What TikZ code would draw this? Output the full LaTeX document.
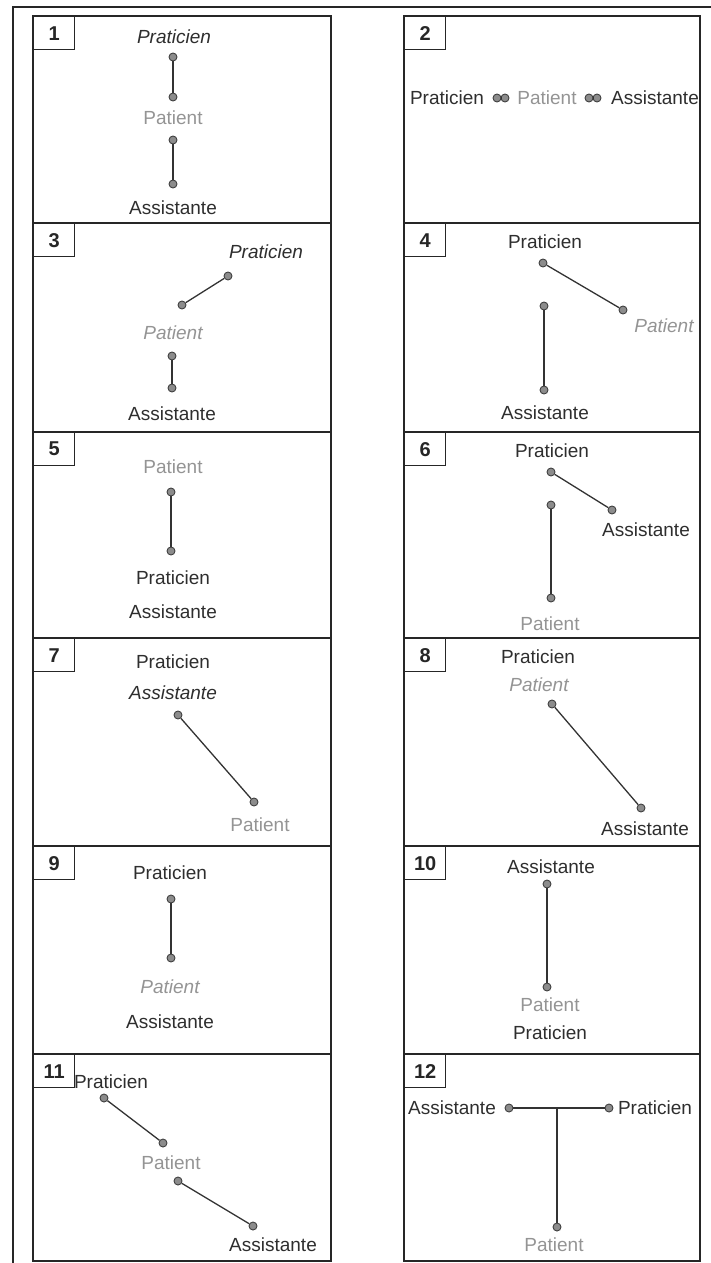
\documentclass[tikz,border=0pt]{standalone}
\usepackage{fontspec}
\setmainfont{Liberation Sans}
\begin{document}
\begin{tikzpicture}[x=1pt,y=-1pt,
  frame/.style={draw=black!85, line width=1.6pt},
  panel/.style={draw=black!85, line width=1.6pt},
  numbox/.style={draw=black!85, line width=1.4pt, minimum width=41pt, minimum height=33pt, inner sep=0pt, anchor=north west, text=black!85, font=\fontsize{20}{22}\selectfont\bfseries},
  lbl/.style={text=black!82, font=\fontsize{19}{22}\selectfont, inner sep=0pt},
  pat/.style={lbl, text=black!42},
  itl/.style={font=\fontsize{19}{22}\selectfont\itshape},
  dot/.style={circle, draw=black!75, fill=black!45, line width=0.9pt, minimum size=8pt, inner sep=0pt},
  link/.style={draw=black!80, line width=1.3pt}]
\useasboundingbox (0,0) rectangle (711,1263);
% outer frame
\draw[frame] (13,1263) -- (13,7) -- (711,7);
% columns and row dividers
\draw[panel] (33,16) rectangle (331,1261);
\draw[panel] (404,16) rectangle (700,1261);
\foreach \yy in {223,432,638,846,1054}{
  \draw[panel] (33,\yy) -- (331,\yy);
  \draw[panel] (404,\yy) -- (700,\yy);
}
% number boxes
\node[numbox] (n1) at (33,16) {1};
\node[numbox] (n2) at (404,16) {2};
\node[numbox] (n3) at (33,223) {3};
\node[numbox] (n4) at (404,223) {4};
\node[numbox] (n5) at (33,432) {5};
\node[numbox] (n6) at (404,432) {6};
\node[numbox] (n7) at (33,638) {7};
\node[numbox] (n8) at (404,638) {8};
\node[numbox] (n9) at (33,846) {9};
\node[numbox] (n10) at (404,846) {10};
\node[numbox] (n11) at (33,1054) {11};
\node[numbox] (n12) at (404,1054) {12};

% ---- Panel 1
\node[lbl,itl] (t1a) at (174,37) {Praticien};
\node[dot] (d1a) at (173,57) {};
\node[dot] (d1b) at (173,97) {};
\node[pat] (t1b) at (173,118) {Patient};
\node[dot] (d1c) at (173,140) {};
\node[dot] (d1d) at (173,184) {};
\node[lbl] (t1c) at (173,208) {Assistante};
\draw[link] (d1a) -- (d1b);
\draw[link] (d1c) -- (d1d);

% ---- Panel 2
\node[lbl] (t2a) at (447,98) {Praticien};
\node[dot] (d2a) at (497,98) {};
\node[dot] (d2b) at (505,98) {};
\node[pat] (t2b) at (547,98) {Patient};
\node[dot] (d2c) at (589,98) {};
\node[dot] (d2d) at (597,98) {};
\node[lbl] (t2c) at (655,98) {Assistante};
\draw[link] (d2a) -- (d2b);
\draw[link] (d2c) -- (d2d);

% ---- Panel 3
\node[lbl,itl] (t3a) at (266,252) {Praticien};
\node[dot] (d3a) at (228,276) {};
\node[dot] (d3b) at (182,305) {};
\node[pat,itl] (t3b) at (173,333) {Patient};
\node[dot] (d3c) at (172,356) {};
\node[dot] (d3d) at (172,388) {};
\node[lbl] (t3c) at (172,414) {Assistante};
\draw[link] (d3a) -- (d3b);
\draw[link] (d3c) -- (d3d);

% ---- Panel 4
\node[lbl] (t4a) at (545,242) {Praticien};
\node[dot] (d4a) at (543,263) {};
\node[dot] (d4b) at (623,310) {};
\node[pat,itl] (t4b) at (664,326) {Patient};
\node[dot] (d4c) at (544,306) {};
\node[dot] (d4d) at (544,390) {};
\node[lbl] (t4c) at (545,413) {Assistante};
\draw[link] (d4a) -- (d4b);
\draw[link] (d4c) -- (d4d);

% ---- Panel 5
\node[pat] (t5a) at (173,467) {Patient};
\node[dot] (d5a) at (171,492) {};
\node[dot] (d5b) at (171,551) {};
\node[lbl] (t5b) at (173,578) {Praticien};
\node[lbl] (t5c) at (173,612) {Assistante};
\draw[link] (d5a) -- (d5b);

% ---- Panel 6
\node[lbl] (t6a) at (552,451) {Praticien};
\node[dot] (d6a) at (551,472) {};
\node[dot] (d6b) at (612,510) {};
\node[lbl] (t6b) at (646,530) {Assistante};
\node[dot] (d6c) at (551,505) {};
\node[dot] (d6d) at (551,598) {};
\node[pat] (t6c) at (550,624) {Patient};
\draw[link] (d6a) -- (d6b);
\draw[link] (d6c) -- (d6d);

% ---- Panel 7
\node[lbl] (t7a) at (173,662) {Praticien};
\node[lbl,itl] (t7b) at (173,693) {Assistante};
\node[dot] (d7a) at (178,715) {};
\node[dot] (d7b) at (254,802) {};
\node[pat] (t7c) at (260,825) {Patient};
\draw[link] (d7a) -- (d7b);

% ---- Panel 8
\node[lbl] (t8a) at (538,657) {Praticien};
\node[pat,itl] (t8b) at (539,685) {Patient};
\node[dot] (d8a) at (552,704) {};
\node[dot] (d8b) at (641,808) {};
\node[lbl] (t8c) at (645,829) {Assistante};
\draw[link] (d8a) -- (d8b);

% ---- Panel 9
\node[lbl] (t9a) at (170,873) {Praticien};
\node[dot] (d9a) at (171,899) {};
\node[dot] (d9b) at (171,958) {};
\node[pat,itl] (t9b) at (170,987) {Patient};
\node[lbl] (t9c) at (170,1022) {Assistante};
\draw[link] (d9a) -- (d9b);

% ---- Panel 10
\node[lbl] (t10a) at (551,867) {Assistante};
\node[dot] (d10a) at (547,884) {};
\node[dot] (d10b) at (547,987) {};
\node[pat] (t10b) at (550,1005) {Patient};
\node[lbl] (t10c) at (550,1033) {Praticien};
\draw[link] (d10a) -- (d10b);

% ---- Panel 11
\node[lbl] (t11a) at (111,1082) {Praticien};
\node[dot] (d11a) at (104,1098) {};
\node[dot] (d11b) at (163,1143) {};
\node[pat] (t11b) at (171,1163) {Patient};
\node[dot] (d11c) at (178,1181) {};
\node[dot] (d11d) at (253,1226) {};
\node[lbl] (t11c) at (273,1245) {Assistante};
\draw[link] (d11a) -- (d11b);
\draw[link] (d11c) -- (d11d);

% ---- Panel 12
\node[lbl] (t12a) at (452,1108) {Assistante};
\node[dot] (d12a) at (509,1108) {};
\node[dot] (d12b) at (609,1108) {};
\node[lbl] (t12b) at (655,1108) {Praticien};
\coordinate (j12) at (557,1108);
\node[dot] (d12c) at (557,1227) {};
\node[pat] (t12c) at (554,1245) {Patient};
\draw[link] (d12a) -- (d12b);
\draw[link] (j12) -- (d12c);
\end{tikzpicture}
\end{document}
